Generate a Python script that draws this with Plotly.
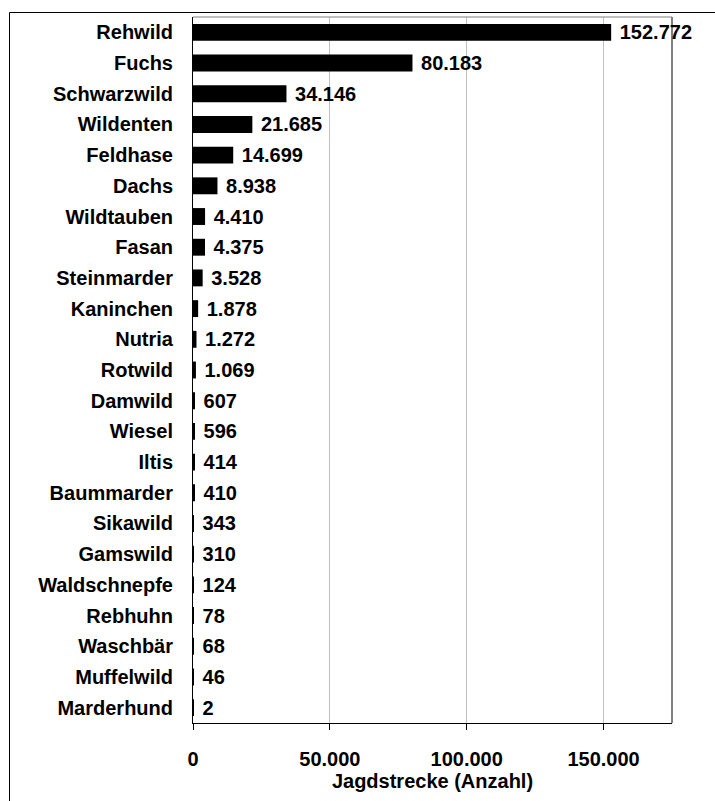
import plotly.graph_objects as go

species = ["Rehwild", "Fuchs", "Schwarzwild", "Wildenten", "Feldhase", "Dachs",
           "Wildtauben", "Fasan", "Steinmarder", "Kaninchen", "Nutria", "Rotwild",
           "Damwild", "Wiesel", "Iltis", "Baummarder", "Sikawild", "Gamswild",
           "Waldschnepfe", "Rebhuhn", "Waschbär", "Muffelwild", "Marderhund"]
counts = [152772, 80183, 34146, 21685, 14699, 8938, 4410, 4375, 3528, 1878, 1272,
          1069, 607, 596, 414, 410, 343, 310, 124, 78, 68, 46, 2]
x_ticks = [0, 50000, 100000, 150000]
x_title = "Jagdstrecke (Anzahl)"

FONT = "Liberation Sans, Arial, sans-serif"
FS = 20

W, H = 715, 801
L, T = 193, 17
PW, PH = 479, 706
R = W - L - PW
B = H - T - PH

fig = go.Figure(go.Bar(
    x=counts, y=species, orientation="h",
    marker=dict(color="black", line=dict(width=0)),
    width=0.55,
    text=counts, texttemplate="\u00a0%{x:,}", textposition="outside",
    textfont=dict(family=FONT, size=FS, color="black", weight="bold"),
    constraintext="none",
    cliponaxis=False,
))

fig.update_layout(
    width=W, height=H,
    margin=dict(l=L, r=R, t=T, b=B),
    paper_bgcolor="white", plot_bgcolor="white",
    separators=",.",
    showlegend=False,
    font=dict(family=FONT, size=FS, color="black", weight="bold"),
)
fig.update_xaxes(
    range=[0, 175000], tickvals=x_ticks, tickformat=",",
    showgrid=True, gridcolor="#c0c0c0", gridwidth=1,
    showline=True, linecolor="black", linewidth=1,
    ticks="outside", ticklen=6, tickcolor="black",
    zeroline=False, ticklabelstandoff=12,
    title=dict(text=x_title, font=dict(size=FS, weight="bold"), standoff=0),
    tickfont=dict(size=FS, weight="bold"),
)
fig.update_yaxes(
    autorange="reversed", showgrid=False,
    showline=True, linecolor="black", linewidth=1,
    ticks="", ticklabelstandoff=15,
    tickfont=dict(size=FS, weight="bold"),
)
# right border (black) and top border (gray) of plot area
fig.add_shape(type="line", xref="paper", yref="paper", x0=1, x1=1, y0=0, y1=1,
              line=dict(color="black", width=1))
fig.add_shape(type="line", xref="paper", yref="paper", x0=0, x1=1, y0=1, y1=1,
              line=dict(color="#808080", width=1))
# outer frame (left and top edges; continues past the window)
fx0 = (9.5 - L) / PW
fy1 = (H - B - 12.5) / PH
fig.add_shape(type="line", xref="paper", yref="paper", x0=fx0, x1=fx0,
              y0=-B / PH - 0.05, y1=fy1, line=dict(color="black", width=1))
fig.add_shape(type="line", xref="paper", yref="paper", x0=fx0, x1=(W - L + 20) / PW,
              y0=fy1, y1=fy1, line=dict(color="black", width=1))

fig.write_html("out.html",
               config={"displayModeBar": False},
               post_script="document.body.style.margin='0';document.body.style.overflow='hidden';")
